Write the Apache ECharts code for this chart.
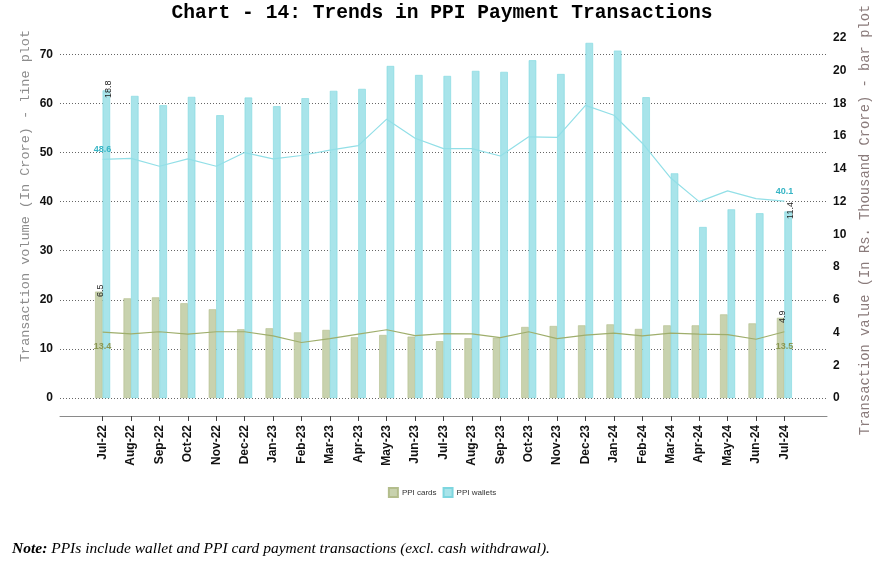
<!DOCTYPE html>
<html><head><meta charset="utf-8">
<script src="https://cdn.jsdelivr.net/npm/echarts@6/dist/echarts.min.js"></script>
<style>html,body{margin:0;padding:0;background:#fff}#c{width:884px;height:561px}</style>
</head><body><div id="c"></div>
<script>
const months = ['Jul-22','Aug-22','Sep-22','Oct-22','Nov-22','Dec-22','Jan-23','Feb-23','Mar-23','Apr-23','May-23','Jun-23','Jul-23','Aug-23','Sep-23','Oct-23','Nov-23','Dec-23','Jan-24','Feb-24','Mar-24','Apr-24','May-24','Jun-24','Jul-24'];
// Transaction value (Rs. thousand crore) - bars, right axis
const cardValue = [6.5,6.09,6.15,5.79,5.42,4.2,4.26,4.01,4.16,3.71,3.85,3.75,3.47,3.65,3.68,4.34,4.4,4.44,4.5,4.22,4.44,4.44,5.11,4.56,4.9];
const walletValue = [18.8,18.46,17.89,18.4,17.28,18.36,17.83,18.32,18.77,18.89,20.29,19.74,19.68,19.99,19.93,20.64,19.8,21.7,21.23,18.38,13.73,10.45,11.53,11.29,11.4];
// Transaction volume (crore) - lines, left axis
const walletVolume = [48.6,48.8,47.2,48.7,47.2,50.0,48.7,49.4,50.5,51.4,56.8,52.9,50.8,50.8,49.3,53.2,53.1,59.6,57.6,51.9,44.8,40.0,42.2,40.6,40.1];
const cardVolume = [13.4,13.05,13.5,13.0,13.5,13.5,12.64,11.3,12.1,13.0,13.9,12.7,13.1,13.05,12.3,13.5,12.1,12.8,13.2,12.64,13.2,13.0,12.9,11.97,13.5];
const leftTicks = {min: 0, max: 220/3, interval: 10};
const rightTicks = {min: 0, max: 22, interval: 2};

const axisCats = [''].concat(months, ['']);
const n = months.length;
function pad(arr, labelFn) {
  const d = arr.map((v, i) => {
    if (labelFn && (i === 0 || i === n - 1)) return {value: v, label: labelFn(i)};
    return v;
  });
  return [null].concat(d, [null]);
}
const barLabel = () => ({show: true, position: 'top', distance: 0, rotate: 90, align: 'center', verticalAlign: 'middle',
  fontSize: 9, color: '#222', fontFamily: 'Liberation Sans', offset: [1, 2]});
const lineLabel = (color, pos, dist) => () => ({show: true, position: pos, distance: dist, fontSize: 9, fontWeight: 'bold',
  color: color, fontFamily: 'Liberation Sans'});

const chart = echarts.init(document.getElementById('c'), null, {renderer: 'canvas'});
chart.setOption({
  animation: false,
  backgroundColor: '#fff',
  title: [{
    text: 'Chart - 14: Trends in PPI Payment Transactions',
    left: 'center', top: -2,
    textStyle: {fontFamily: 'Liberation Mono', fontWeight: 'bold', fontSize: 19.6, color: '#000'}
  }, {
    text: '{b|Note:}{t| PPIs include wallet and PPI card payment transactions (excl. cash withdrawal).}',
    left: 7, top: 534,
    textStyle: {fontSize: 15.5, lineHeight: 20,
      rich: {
        b: {fontFamily: 'Liberation Serif', fontStyle: 'italic', fontWeight: 'bold', fontSize: 15.5, lineHeight: 20, color: '#000', verticalAlign: 'middle'},
        t: {fontFamily: 'Liberation Serif', fontStyle: 'italic', fontWeight: 'normal', fontSize: 15.5, lineHeight: 20, color: '#000', verticalAlign: 'middle'}
      }}
  }],
  legend: {
    data: ['PPI cards', 'PPI wallets'],
    left: 'center', top: 482, itemWidth: 9, itemHeight: 9, itemGap: 6,
    icon: 'rect',
    textStyle: {fontSize: 8, color: '#333', fontFamily: 'Liberation Sans', padding: [0, 0, 0, -1]}
  },
  grid: {left: 60, right: 57, top: 38, bottom: 163, containLabel: false},
  xAxis: [{
    type: 'category', data: axisCats, boundaryGap: true, offset: 18,
    axisLine: {show: true, onZero: false, lineStyle: {color: '#8a8a8a', width: 1}},
    axisTick: {show: true, alignWithLabel: true, length: 5, lineStyle: {color: '#444', width: 1},
      interval: function (i) { return i > 0 && i < n + 1; }},
    axisLabel: {show: false},
    splitLine: {show: false}
  }, {
    type: 'category', data: axisCats, boundaryGap: true, offset: 18, position: 'bottom',
    axisLine: {show: false, onZero: false}, axisTick: {show: false},
    axisLabel: {rotate: 90, interval: 0, margin: 9, fontSize: 12, fontWeight: 'bold', color: '#111', fontFamily: 'Liberation Sans'},
    splitLine: {show: false}
  }],
  yAxis: [{
    type: 'value', min: leftTicks.min, max: leftTicks.max, interval: leftTicks.interval,
    name: 'Transaction volume (In Crore) - line plot', nameLocation: 'middle', nameGap: 28, nameRotate: 90,
    nameMoveOverlap: false,
    nameTextStyle: {fontFamily: 'Liberation Mono', fontSize: 13.5, color: '#8c8c8c', padding: [0, 0, 0, 44]},
    axisLine: {show: false}, axisTick: {show: false},
    axisLabel: {showMaxLabel: false, margin: 7, fontSize: 12, fontWeight: 'bold', color: '#111', fontFamily: 'Liberation Sans'},
    splitLine: {show: true, showMaxLine: false, lineStyle: {color: '#666', type: [1, 2], width: 1}}
  }, {
    type: 'value', min: rightTicks.min, max: rightTicks.max, interval: rightTicks.interval, position: 'right',
    name: 'Transaction value (In Rs. Thousand Crore) - bar plot', nameLocation: 'middle', nameGap: 31, nameRotate: 90,
    nameTextStyle: {fontFamily: 'Liberation Mono', fontSize: 13.8, color: '#8a7b7b', padding: [0, 4, 0, 0]},
    axisLine: {show: false}, axisTick: {show: false},
    axisLabel: {margin: 6, fontSize: 12, fontWeight: 'bold', color: '#111', fontFamily: 'Liberation Sans'},
    splitLine: {show: false}
  }],
  series: [{
    name: 'PPI cards', type: 'bar', yAxisIndex: 1, barWidth: 7.5, barGap: '0%',
    itemStyle: {color: '#c8d2ae', borderColor: '#b3bd8c', borderWidth: 0.6},
    data: pad(cardValue, barLabel), z: 2
  }, {
    name: 'PPI wallets', type: 'bar', yAxisIndex: 1, barWidth: 7.5, barGap: '0%',
    itemStyle: {color: '#a8e4ea', borderColor: '#7dd6df', borderWidth: 0.6},
    data: pad(walletValue, barLabel), z: 2
  }, {
    name: 'PPI wallets volume', type: 'line', yAxisIndex: 0, showSymbol: true, symbol: 'circle', symbolSize: 0,
    lineStyle: {color: '#92dfe7', width: 1.2},
    itemStyle: {color: '#92dfe7'},
    label: {show: false},
    data: pad(walletVolume, lineLabel('#36b5c5', 'top', 5)), z: 4
  }, {
    name: 'PPI cards volume', type: 'line', yAxisIndex: 0, showSymbol: true, symbol: 'circle', symbolSize: 0,
    lineStyle: {color: '#9fae6c', width: 1.2},
    itemStyle: {color: '#9fae6c'},
    label: {show: false},
    data: pad(cardVolume, lineLabel('#8a9752', 'bottom', 10)), z: 4
  }]
});
</script></body></html>
